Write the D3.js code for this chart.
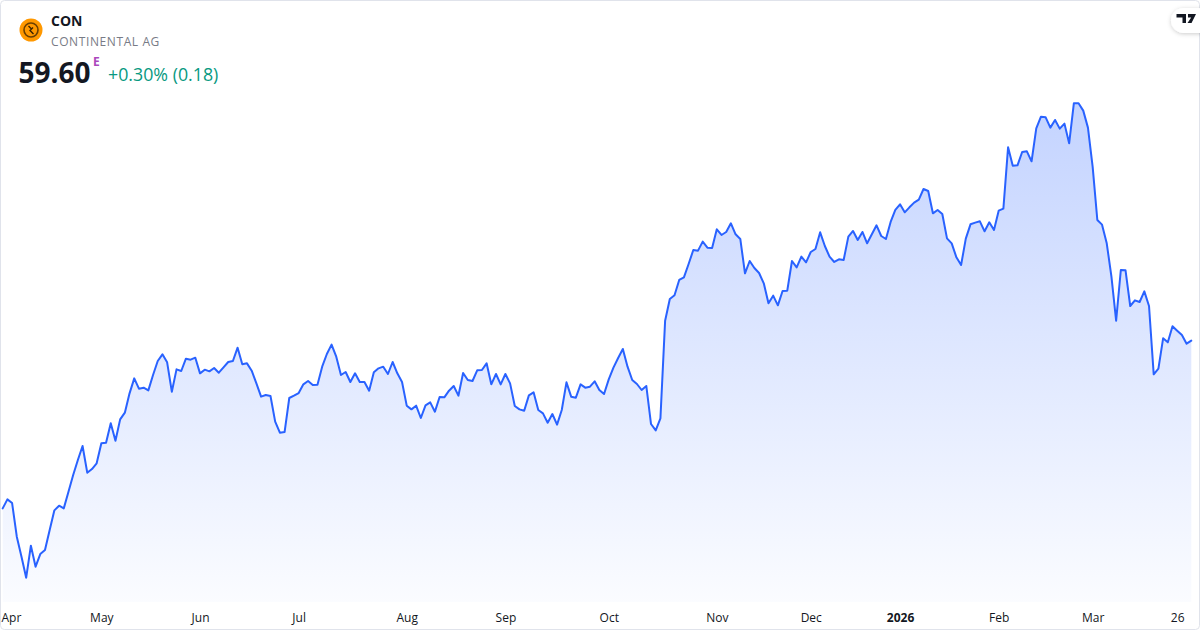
<!DOCTYPE html>
<html>
<head>
<meta charset="utf-8">
<script src="https://cdn.jsdelivr.net/npm/d3@7/dist/d3.min.js"></script>
<style>
  html, body { margin: 0; padding: 0; background: #ffffff; }
  svg { display: block; font-family: "Open Sans", "Noto Sans", sans-serif; }
</style>
</head>
<body>
<svg id="chart" width="1200" height="630"></svg>
<script>
// ---- data ----
const symbol = "CON";
const companyName = "CONTINENTAL AG";
const lastPrice = "59.60";
const changeText = "+0.30% (0.18)";

const prices = [
  49.54, 50.08, 49.86, 47.84, 46.64, 45.38, 47.30, 46.04, 46.80, 47.04,
  48.24, 49.42, 49.70, 49.54, 50.54, 51.54, 52.44, 53.28, 51.68, 51.90,
  52.24, 53.44, 53.48, 54.64, 53.60, 54.88, 55.28, 56.44, 57.34, 56.72,
  56.78, 56.62, 57.54, 58.38, 58.78, 58.30, 56.54, 57.88, 57.78, 58.52,
  58.46, 58.58, 57.64, 57.86, 57.76, 57.96, 57.68, 58.00, 58.32, 58.38,
  59.18, 58.18, 58.24,
  57.80, 57.04, 56.24, 56.34, 56.28, 54.74, 54.08, 54.12, 56.16, 56.30,
  56.46, 56.98, 57.18, 56.94, 56.96, 58.04, 58.80, 59.36, 58.64, 57.54,
  57.72, 57.12, 57.64, 57.12, 57.12, 56.60, 57.70, 57.94, 58.04, 57.60,
  58.32, 57.64, 57.12, 55.70, 55.48, 55.70, 54.96, 55.72, 55.90, 55.34,
  56.22, 56.20, 56.60, 56.88, 56.30, 57.66, 57.24, 57.18, 57.82, 57.84,
  58.24,
  56.98, 57.60, 56.98, 57.60, 57.04, 55.68, 55.48, 55.40, 56.32, 56.50,
  55.44, 55.24, 54.68, 55.20, 54.56, 55.44, 57.10, 56.24, 56.18, 56.98,
  56.78, 56.84, 57.16, 56.64, 56.40, 57.28, 57.98, 58.56, 59.10, 58.04,
  57.24, 57.00, 56.64, 56.88, 54.60, 54.22, 54.94, 60.80,
  62.10, 62.32, 63.24, 63.40, 64.20, 65.04, 65.00, 65.54, 65.18, 65.16,
  66.28, 65.94, 66.12, 66.64, 65.98, 65.70, 63.64, 64.38, 63.96, 63.66,
  63.04, 61.84, 62.30, 61.72, 62.58, 62.60, 64.38, 64.00, 64.64, 64.30,
  64.92, 65.10, 66.10, 65.28, 64.64, 64.32, 64.48, 64.44, 65.84, 66.18,
  65.64, 66.12, 65.44, 65.98, 66.52,
  65.88, 65.70, 66.72, 67.44, 67.78, 67.30, 67.60, 67.88, 68.06, 68.70,
  68.58, 67.24, 67.44, 67.20, 65.74, 65.44, 64.60, 64.14, 65.72, 66.58,
  66.68, 66.76, 66.16, 66.70,
  66.24, 67.40, 67.52, 71.20, 70.10, 70.12, 70.92, 70.96, 70.36, 72.34,
  73.04, 73.00, 72.38, 72.84, 72.32, 72.62, 71.44, 73.84, 73.84, 73.40,
  72.38, 70.04, 66.84, 66.56, 65.44, 63.44, 60.80, 63.84, 63.82, 61.68,
  62.02, 61.92, 62.56, 61.68, 57.58, 57.92, 59.74, 59.50, 60.46, 60.20,
  59.94, 59.42, 59.60
];

// bar index of each time-axis label
const tickIndex  = [0, 21, 42, 63, 86, 107, 129, 152, 172, 191, 212, 232, 250];
const tickLabels = ["Apr", "May", "Jun", "Jul", "Aug", "Sep", "Oct", "Nov", "Dec", "2026", "Feb", "Mar", "26"];

// ---- drawing ----
const W = 1200, H = 630;
const svg = d3.select("#chart");
const data = prices.map((v, i) => ({ i, v }));

const x = d3.scaleLinear().domain([0, prices.length - 1]).range([2.7, 1191.3]);
const y = d3.scaleLinear().domain(d3.extent(prices)).range([577.7, 103.3]);

const defs = svg.append("defs");
const grad = defs.append("linearGradient")
  .attr("id", "fillGrad").attr("gradientUnits", "userSpaceOnUse")
  .attr("x1", 0).attr("x2", 0).attr("y1", 100).attr("y2", 602);
grad.append("stop").attr("offset", "0%").attr("stop-color", "#2962FF").attr("stop-opacity", 0.28);
grad.append("stop").attr("offset", "100%").attr("stop-color", "#2962FF").attr("stop-opacity", 0.02);

const shadow = defs.append("filter").attr("id", "shadow").attr("x", "-50%").attr("y", "-50%").attr("width", "200%").attr("height", "200%");
shadow.append("feDropShadow").attr("dx", 0).attr("dy", 1).attr("stdDeviation", 2).attr("flood-color", "#000").attr("flood-opacity", 0.2);

// background + frame
svg.append("rect").attr("x", 0.5).attr("y", 0.5).attr("width", W - 1).attr("height", H - 1)
  .attr("rx", 4).attr("fill", "#ffffff").attr("stroke", "#e0e3eb");

// area
const area = d3.area().x(d => x(d.i)).y0(602).y1(d => y(d.v));
svg.append("path").datum(data).attr("d", area).attr("fill", "url(#fillGrad)");

// line
const line = d3.line().x(d => x(d.i)).y(d => y(d.v));
svg.append("path").datum(data).attr("d", line)
  .attr("fill", "none").attr("stroke", "#2962FF").attr("stroke-width", 2)
  .attr("stroke-linejoin", "round").attr("stroke-linecap", "round");

// time axis
const axisG = svg.append("g").attr("transform", "translate(0,606)");
const axis = d3.axisBottom(x).tickValues(tickIndex).tickSize(0).tickPadding(0)
  .tickFormat((d, k) => tickLabels[k]);
axisG.call(axis);
axisG.select(".domain").remove();
axisG.selectAll("text")
  .attr("dy", "16px")
  .attr("font-family", "'Open Sans', 'Noto Sans', sans-serif")
  .attr("font-size", 12)
  .attr("fill", "#131722")
  .attr("font-weight", (d, k) => tickLabels[k] === "2026" ? 700 : 400)
  .attr("text-anchor", (d, k) => k === 0 ? "start" : "middle")
  .attr("x", (d, k) => k === 0 ? 1 - x(d) : 0);

// header
svg.append("circle").attr("cx", 31).attr("cy", 30).attr("r", 11.5).attr("fill", "#FF9800");
svg.append("circle").attr("cx", 31).attr("cy", 30).attr("r", 7).attr("fill", "none").attr("stroke", "#6b3f00").attr("stroke-width", 1.6);
svg.append("path").attr("d", "M28.5,26 L31.5,29 L30,30.5 L33.5,34 M31.5,29 L33,27.5")
  .attr("fill", "none").attr("stroke", "#3a2200").attr("stroke-width", 1.4);

svg.append("text").attr("x", 51).attr("y", 26).text(symbol)
  .attr("font-size", 14).attr("font-weight", 700).attr("fill", "#131722");
svg.append("text").attr("x", 51).attr("y", 45.5).text(companyName)
  .attr("font-size", 12).attr("fill", "#787b86").attr("letter-spacing", "0.6px");
svg.append("text").attr("x", 18.5).attr("y", 83).text(lastPrice)
  .attr("font-size", 28).attr("font-weight", 700).attr("fill", "#131722");
svg.append("text").attr("x", 93).attr("y", 66).text("E")
  .attr("font-size", 12).attr("font-weight", 700).attr("fill", "#ab47bc");
svg.append("text").attr("x", 108).attr("y", 81).text(changeText)
  .attr("font-size", 17.8).attr("fill", "#089981");

// TradingView badge
svg.append("rect").attr("x", 1171).attr("y", 8).attr("width", 40).attr("height", 25).attr("rx", 12.5)
  .attr("fill", "#ffffff").attr("filter", "url(#shadow)");
svg.append("path")
  .attr("d", "M1176.5,14 H1186 V23 H1182.5 V17.5 H1176.5 Z M1188,14 H1196 L1191.5,23 H1187.5 L1191.2,17.5 H1188 Z")
  .attr("fill", "#131722");
</script>
</body>
</html>
